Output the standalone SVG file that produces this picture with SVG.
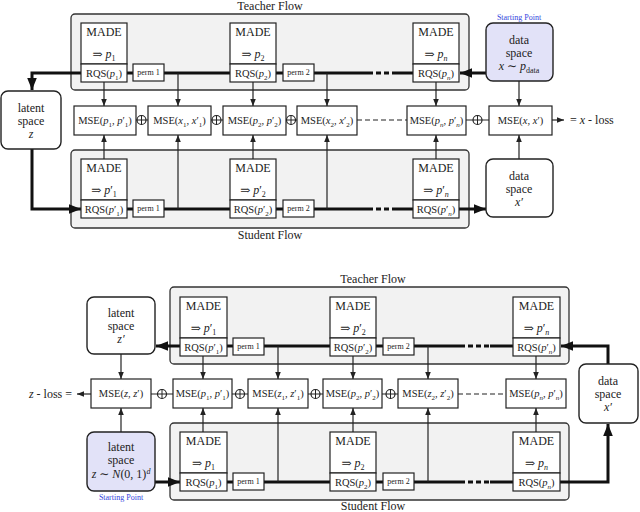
<svg xmlns="http://www.w3.org/2000/svg" width="640" height="512" viewBox="0 0 640 512">
<style>
text{font-family:"Liberation Serif","DejaVu Serif",serif;font-size:12px;fill:#222;text-anchor:middle}
.m{font-size:10.5px}
.i{font-style:italic}
.sm{font-size:8px}
.m .sm{font-size:7px}
.blue{fill:#3344dd;font-size:8px}
.panel{fill:#f2f2f2;stroke:#333;stroke-width:1.3}
.box{fill:#fff;stroke:#222;stroke-width:1.2}
.node{fill:#fff;stroke:#222;stroke-width:1.4}
.start{fill:#e2e2f8;stroke:#222;stroke-width:1.4}
.thick{fill:none;stroke:#111;stroke-width:3}
.thin{fill:none;stroke:#222;stroke-width:1.2}
.dash{stroke-dasharray:5 3}
.op{fill:#fff;stroke:#222;stroke-width:1.2}
</style>
<defs>
<marker id="ah" viewBox="0 0 10 10" refX="10" refY="5" markerWidth="7" markerHeight="7" markerUnits="userSpaceOnUse" orient="auto"><path d="M0,1 L10,5 L0,9 Z" fill="#222"/></marker>
<marker id="aH" viewBox="0 0 10 10" refX="10" refY="5" markerWidth="12" markerHeight="12" markerUnits="userSpaceOnUse" orient="auto"><path d="M0,1 L10,5 L0,9 Z" fill="#111"/></marker>
<symbol id="oplus" overflow="visible"><circle r="4.5" class="op"/><path d="M-4.5,0H4.5M0,-4.5V4.5" stroke="#222" stroke-width="1"/></symbol>
</defs>

<!-- ===== TOP ===== -->
<g id="top-panels">
<rect class="panel" x="71" y="14" width="398" height="76" rx="4"/>
<rect class="panel" x="71" y="150" width="398" height="78" rx="4"/>
<text x="270" y="10">Teacher Flow</text>
<text x="270" y="239">Student Flow</text>
</g>
<g id="top-connectors">
<path class="thick" d="M81,73H32V90" marker-end="url(#aH)"/>
<path class="thick" d="M127,73H133M164,73H230M276,73H283M314,73H368M394,73H413"/>
<path class="thick dash" d="M368,73H394"/>
<path class="thick" d="M486,73H460" marker-end="url(#aH)"/>
<path class="thick" d="M32,149V209H81" marker-end="url(#aH)"/>
<path class="thick" d="M127,209H133M164,209H230M276,209H283M314,209H368M394,209H413"/>
<path class="thick dash" d="M368,209H394"/>
<path class="thick" d="M459,209H486" marker-end="url(#aH)"/>
<g marker-end="url(#ah)">
<path class="thin" d="M104,82V106"/><path class="thin" d="M178,73V106"/><path class="thin" d="M253,82V106"/>
<path class="thin" d="M327,73V106"/><path class="thin" d="M436,82V106"/><path class="thin" d="M519,81V106"/>
<path class="thin" d="M104,159V135"/><path class="thin" d="M178,209V135"/><path class="thin" d="M253,159V135"/>
<path class="thin" d="M327,209V135"/><path class="thin" d="M436,159V135"/><path class="thin" d="M519,159V135"/>
<path class="thin" d="M552,120H564"/>
</g>
<path class="thin" d="M136,120H148M211,120H223M286,120H297M466,120H489"/>
<path class="thin dash" d="M357,120H407"/>
</g>
<g id="top-teacher">
<rect class="box" x="81" y="23" width="46" height="41"/><rect class="box" x="81" y="64" width="46" height="18"/>
<text x="104" y="36">MADE</text><text x="104" y="58">⇒ <tspan class="i">p</tspan><tspan class="sm" baseline-shift="-3">1</tspan></text>
<text class="m" x="104" y="77">RQS(<tspan class="i">p</tspan><tspan class="sm" baseline-shift="-3">1</tspan>)</text>
<rect class="box" x="133" y="64" width="31" height="17"/><text class="sm" x="148.5" y="75">perm 1</text>
<rect class="box" x="230" y="23" width="46" height="41"/><rect class="box" x="230" y="64" width="46" height="18"/>
<text x="253" y="36">MADE</text><text x="253" y="58">⇒ <tspan class="i">p</tspan><tspan class="sm" baseline-shift="-3">2</tspan></text>
<text class="m" x="253" y="77">RQS(<tspan class="i">p</tspan><tspan class="sm" baseline-shift="-3">2</tspan>)</text>
<rect class="box" x="283" y="64" width="31" height="17"/><text class="sm" x="298.5" y="75">perm 2</text>
<rect class="box" x="413" y="23" width="46" height="41"/><rect class="box" x="413" y="64" width="46" height="18"/>
<text x="436" y="36">MADE</text><text x="436" y="58">⇒ <tspan class="i">p</tspan><tspan class="sm i" baseline-shift="-3">n</tspan></text>
<text class="m" x="436" y="77">RQS(<tspan class="i">p</tspan><tspan class="sm i" baseline-shift="-3">n</tspan>)</text>
</g>
<g id="top-student">
<rect class="box" x="81" y="159" width="46" height="41"/><rect class="box" x="81" y="200" width="46" height="18"/>
<text x="104" y="172">MADE</text><text x="104" y="194">⇒ <tspan class="i">p</tspan>′<tspan class="sm" baseline-shift="-3">1</tspan></text>
<text class="m" x="104" y="213">RQS(<tspan class="i">p</tspan>′<tspan class="sm" baseline-shift="-3">1</tspan>)</text>
<rect class="box" x="133" y="200" width="31" height="17"/><text class="sm" x="148.5" y="211">perm 1</text>
<rect class="box" x="230" y="159" width="46" height="41"/><rect class="box" x="230" y="200" width="46" height="18"/>
<text x="253" y="172">MADE</text><text x="253" y="194">⇒ <tspan class="i">p</tspan>′<tspan class="sm" baseline-shift="-3">2</tspan></text>
<text class="m" x="253" y="213">RQS(<tspan class="i">p</tspan>′<tspan class="sm" baseline-shift="-3">2</tspan>)</text>
<rect class="box" x="283" y="200" width="31" height="17"/><text class="sm" x="298.5" y="211">perm 2</text>
<rect class="box" x="413" y="159" width="46" height="41"/><rect class="box" x="413" y="200" width="46" height="18"/>
<text x="436" y="172">MADE</text><text x="436" y="194">⇒ <tspan class="i">p</tspan>′<tspan class="sm i" baseline-shift="-3">n</tspan></text>
<text class="m" x="436" y="213">RQS(<tspan class="i">p</tspan>′<tspan class="sm i" baseline-shift="-3">n</tspan>)</text>
</g>
<g id="top-latent">
<rect class="node" x="1" y="91" width="60" height="58" rx="7"/>
<text x="31" y="112">latent</text><text x="31" y="125">space</text><text class="i" x="31" y="138">z</text>
</g>
<g id="top-data">
<rect class="start" x="486" y="23" width="67" height="58" rx="7"/>
<text class="blue" x="519" y="20">Starting Point</text>
<text x="519" y="44">data</text><text x="519" y="57">space</text>
<text x="519" y="70"><tspan class="i">x</tspan> ∼ <tspan class="i">p</tspan><tspan class="sm" baseline-shift="-3">data</tspan></text>
</g>
<g id="top-data2">
<rect class="node" x="486" y="159" width="67" height="58" rx="7"/>
<text x="519" y="180">data</text><text x="519" y="193">space</text><text class="i" x="519" y="206">x′</text>
</g>
<g id="top-mse">
<rect class="box" x="74" y="106" width="62" height="29"/><text class="m" x="105" y="124">MSE(<tspan class="i">p</tspan><tspan class="sm" baseline-shift="-3">1</tspan>, <tspan class="i">p</tspan>′<tspan class="sm" baseline-shift="-3">1</tspan>)</text>
<rect class="box" x="148" y="106" width="63" height="29"/><text class="m" x="179.5" y="124">MSE(<tspan class="i">x</tspan><tspan class="sm" baseline-shift="-3">1</tspan>, <tspan class="i">x</tspan>′<tspan class="sm" baseline-shift="-3">1</tspan>)</text>
<rect class="box" x="223" y="106" width="63" height="29"/><text class="m" x="254.5" y="124">MSE(<tspan class="i">p</tspan><tspan class="sm" baseline-shift="-3">2</tspan>, <tspan class="i">p</tspan>′<tspan class="sm" baseline-shift="-3">2</tspan>)</text>
<rect class="box" x="297" y="106" width="60" height="29"/><text class="m" x="327" y="124">MSE(<tspan class="i">x</tspan><tspan class="sm" baseline-shift="-3">2</tspan>, <tspan class="i">x</tspan>′<tspan class="sm" baseline-shift="-3">2</tspan>)</text>
<rect class="box" x="407" y="106" width="59" height="29"/><text class="m" x="436.5" y="124">MSE(<tspan class="i">p</tspan><tspan class="sm i" baseline-shift="-3">n</tspan>, <tspan class="i">p</tspan>′<tspan class="sm i" baseline-shift="-3">n</tspan>)</text>
<rect class="box" x="489" y="106" width="63" height="29"/><text class="m" x="520.5" y="124">MSE(<tspan class="i">x</tspan>, <tspan class="i">x</tspan>′)</text>
<use href="#oplus" x="141.5" y="120"/><use href="#oplus" x="216.5" y="120"/><use href="#oplus" x="291" y="120"/><use href="#oplus" x="477.5" y="120"/>
<text x="570" y="124" style="text-anchor:start">= <tspan class="i">x</tspan> - loss</text>
</g>

<!-- ===== BOTTOM ===== -->
<g id="bot-panels">
<rect class="panel" x="170" y="287" width="399" height="77" rx="4"/>
<rect class="panel" x="170" y="423" width="399" height="77" rx="4"/>
<text x="373" y="283">Teacher Flow</text>
<text x="373" y="510">Student Flow</text>
</g>
<g id="bot-connectors">
<path class="thick" d="M180,346H156" marker-end="url(#aH)"/>
<path class="thick" d="M227,346H233M264,346H330M376,346H383M414,346H460M490,346H513"/>
<path class="thick dash" d="M460,346H490"/>
<path class="thick" d="M608,364V346H561" marker-end="url(#aH)"/>
<path class="thick" d="M155,482H180" marker-end="url(#aH)"/>
<path class="thick" d="M227,482H233M264,482H330M376,482H383M414,482H460M490,482H513"/>
<path class="thick dash" d="M460,482H490"/>
<path class="thick" d="M560,482H608V424" marker-end="url(#aH)"/>
<g marker-end="url(#ah)">
<path class="thin" d="M121,354V379"/><path class="thin" d="M203,356V379"/><path class="thin" d="M278,346V379"/>
<path class="thin" d="M353,356V379"/><path class="thin" d="M428,346V379"/><path class="thin" d="M536,356V379"/>
<path class="thin" d="M121,432V408"/><path class="thin" d="M203,432V408"/><path class="thin" d="M278,482V408"/>
<path class="thin" d="M353,432V408"/><path class="thin" d="M428,482V408"/><path class="thin" d="M536,432V408"/>
<path class="thin" d="M91,394H77"/>
</g>
<path class="thin" d="M151,394H173M232,394H248M308,394H323M382,394H398"/>
<path class="thin dash" d="M458,394H506"/>
</g>
<g id="bot-teacher">
<rect class="box" x="180" y="297" width="47" height="41"/><rect class="box" x="180" y="338" width="47" height="18"/>
<text x="203.5" y="310">MADE</text><text x="203.5" y="332">⇒ <tspan class="i">p</tspan>′<tspan class="sm" baseline-shift="-3">1</tspan></text>
<text class="m" x="203.5" y="351">RQS(<tspan class="i">p</tspan>′<tspan class="sm" baseline-shift="-3">1</tspan>)</text>
<rect class="box" x="233" y="338" width="31" height="17"/><text class="sm" x="248.5" y="349">perm 1</text>
<rect class="box" x="330" y="297" width="46" height="41"/><rect class="box" x="330" y="338" width="46" height="18"/>
<text x="353" y="310">MADE</text><text x="353" y="332">⇒ <tspan class="i">p</tspan>′<tspan class="sm" baseline-shift="-3">2</tspan></text>
<text class="m" x="353" y="351">RQS(<tspan class="i">p</tspan>′<tspan class="sm" baseline-shift="-3">2</tspan>)</text>
<rect class="box" x="383" y="338" width="31" height="17"/><text class="sm" x="398.5" y="349">perm 2</text>
<rect class="box" x="513" y="297" width="47" height="41"/><rect class="box" x="513" y="338" width="47" height="18"/>
<text x="536.5" y="310">MADE</text><text x="536.5" y="332">⇒ <tspan class="i">p</tspan>′<tspan class="sm i" baseline-shift="-3">n</tspan></text>
<text class="m" x="536.5" y="351">RQS(<tspan class="i">p</tspan>′<tspan class="sm i" baseline-shift="-3">n</tspan>)</text>
</g>
<g id="bot-student">
<rect class="box" x="180" y="432" width="47" height="41"/><rect class="box" x="180" y="473" width="47" height="18"/>
<text x="203.5" y="445">MADE</text><text x="203.5" y="467">⇒ <tspan class="i">p</tspan><tspan class="sm" baseline-shift="-3">1</tspan></text>
<text class="m" x="203.5" y="486">RQS(<tspan class="i">p</tspan><tspan class="sm" baseline-shift="-3">1</tspan>)</text>
<rect class="box" x="233" y="473" width="31" height="17"/><text class="sm" x="248.5" y="484">perm 1</text>
<rect class="box" x="330" y="432" width="46" height="41"/><rect class="box" x="330" y="473" width="46" height="18"/>
<text x="353" y="445">MADE</text><text x="353" y="467">⇒ <tspan class="i">p</tspan><tspan class="sm" baseline-shift="-3">2</tspan></text>
<text class="m" x="353" y="486">RQS(<tspan class="i">p</tspan><tspan class="sm" baseline-shift="-3">2</tspan>)</text>
<rect class="box" x="383" y="473" width="31" height="17"/><text class="sm" x="398.5" y="484">perm 2</text>
<rect class="box" x="513" y="432" width="47" height="41"/><rect class="box" x="513" y="473" width="47" height="18"/>
<text x="536.5" y="445">MADE</text><text x="536.5" y="467">⇒ <tspan class="i">p</tspan><tspan class="sm i" baseline-shift="-3">n</tspan></text>
<text class="m" x="536.5" y="486">RQS(<tspan class="i">p</tspan><tspan class="sm i" baseline-shift="-3">n</tspan>)</text>
</g>
<g id="bot-latent-prime">
<rect class="node" x="87" y="297" width="68" height="57" rx="7"/>
<text x="121" y="317">latent</text><text x="121" y="330">space</text><text class="i" x="121" y="343">z′</text>
</g>
<g id="bot-latent">
<rect class="start" x="87" y="432" width="68" height="59" rx="7"/>
<text x="121" y="451">latent</text><text x="121" y="464">space</text>
<text x="121" y="478"><tspan class="i">z</tspan> ∼ <tspan class="i">N</tspan>(0, 1)<tspan class="sm i" baseline-shift="4">d</tspan></text>
<text class="blue" x="121" y="500">Starting Point</text>
</g>
<g id="bot-data">
<rect class="node" x="579" y="364" width="59" height="59" rx="7"/>
<text x="608" y="385">data</text><text x="608" y="398">space</text><text class="i" x="608" y="411">x′</text>
</g>
<g id="bot-mse">
<rect class="box" x="91" y="379" width="60" height="29"/><text class="m" x="121" y="397">MSE(<tspan class="i">z</tspan>, <tspan class="i">z</tspan>′)</text>
<rect class="box" x="173" y="379" width="59" height="29"/><text class="m" x="202.5" y="397">MSE(<tspan class="i">p</tspan><tspan class="sm" baseline-shift="-3">1</tspan>, <tspan class="i">p</tspan>′<tspan class="sm" baseline-shift="-3">1</tspan>)</text>
<rect class="box" x="248" y="379" width="60" height="29"/><text class="m" x="278" y="397">MSE(<tspan class="i">z</tspan><tspan class="sm" baseline-shift="-3">1</tspan>, <tspan class="i">z</tspan>′<tspan class="sm" baseline-shift="-3">1</tspan>)</text>
<rect class="box" x="323" y="379" width="59" height="29"/><text class="m" x="352.5" y="397">MSE(<tspan class="i">p</tspan><tspan class="sm" baseline-shift="-3">2</tspan>, <tspan class="i">p</tspan>′<tspan class="sm" baseline-shift="-3">2</tspan>)</text>
<rect class="box" x="398" y="379" width="60" height="29"/><text class="m" x="428" y="397">MSE(<tspan class="i">z</tspan><tspan class="sm" baseline-shift="-3">2</tspan>, <tspan class="i">z</tspan>′<tspan class="sm" baseline-shift="-3">2</tspan>)</text>
<rect class="box" x="506" y="379" width="60" height="29"/><text class="m" x="536" y="397">MSE(<tspan class="i">p</tspan><tspan class="sm i" baseline-shift="-3">n</tspan>, <tspan class="i">p</tspan>′<tspan class="sm i" baseline-shift="-3">n</tspan>)</text>
<use href="#oplus" x="162" y="394"/><use href="#oplus" x="240" y="394"/><use href="#oplus" x="315.5" y="394"/><use href="#oplus" x="390.5" y="394"/>
<text x="72" y="398" style="text-anchor:end"><tspan class="i">z</tspan> - loss =</text>
</g>
</svg>
